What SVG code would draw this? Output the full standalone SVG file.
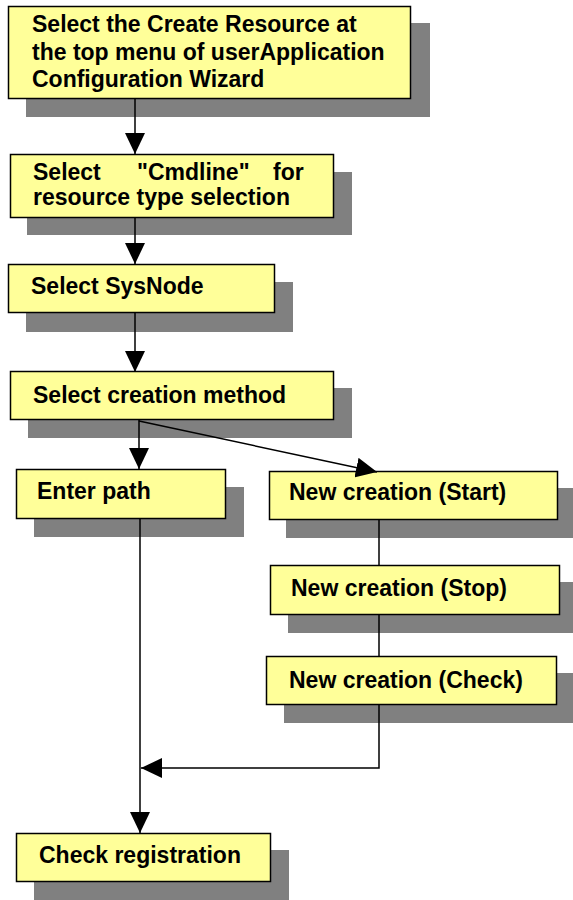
<svg xmlns="http://www.w3.org/2000/svg" width="573" height="900" viewBox="0 0 573 900">
<style>
.sh{fill:#808080}
.bx{fill:#ffff99;stroke:#000;stroke-width:1.5}
.t{font-family:"Liberation Sans",Arial,sans-serif;font-weight:bold;font-size:23px;fill:#000}
.ln{fill:none;stroke:#000;stroke-width:1.5}
</style>
<defs>
<marker id="ah" markerUnits="userSpaceOnUse" markerWidth="21" markerHeight="20" viewBox="0 0 21 20" refX="21" refY="10" orient="auto">
<path d="M0,0 L21,10 L0,20 Z" fill="#000"/>
</marker>
</defs>
<rect width="573" height="900" fill="#fff"/>
<g id="n1">
<rect class="sh" x="26" y="23" width="404" height="94"/>
<rect class="bx" x="8.5" y="6.5" width="402" height="92"/>
<text class="t" x="32" y="32">Select the Create Resource at</text>
<text class="t" x="32" y="60">the top menu of userApplication</text>
<text class="t" x="32" y="87">Configuration Wizard</text>
</g>
<g id="n2">
<rect class="sh" x="27" y="172" width="325" height="63"/>
<rect class="bx" x="10.5" y="154.5" width="323" height="63"/>
<text class="t" x="33" y="180">Select</text>
<text class="t" x="137" y="180">"Cmdline"</text>
<text class="t" x="273" y="180">for</text>
<text class="t" x="33" y="205">resource type selection</text>
</g>
<g id="n3">
<rect class="sh" x="26" y="282" width="267" height="50"/>
<rect class="bx" x="8.5" y="264.5" width="266" height="48"/>
<text class="t" x="31" y="294">Select SysNode</text>
</g>
<g id="n4">
<rect class="sh" x="28" y="388" width="324" height="50"/>
<rect class="bx" x="10.5" y="371.5" width="323" height="48"/>
<text class="t" x="33" y="403">Select creation method</text>
</g>
<g id="n5">
<rect class="sh" x="34" y="487" width="210" height="50"/>
<rect class="bx" x="16.5" y="469.5" width="209" height="49"/>
<text class="t" x="37" y="499">Enter path</text>
</g>
<g id="n6">
<rect class="sh" x="286" y="488" width="287" height="50"/>
<rect class="bx" x="269.5" y="471.5" width="288" height="48"/>
<text class="t" x="289" y="500">New creation (Start)</text>
</g>
<g id="n7">
<rect class="sh" x="288" y="582" width="285" height="51"/>
<rect class="bx" x="270.5" y="565.5" width="289" height="49"/>
<text class="t" x="291" y="596">New creation (Stop)</text>
</g>
<g id="n8">
<rect class="sh" x="284" y="673" width="289" height="50"/>
<rect class="bx" x="266.5" y="656.5" width="290" height="48"/>
<text class="t" x="289" y="688">New creation (Check)</text>
</g>
<g id="n9">
<rect class="sh" x="34" y="850" width="255" height="50"/>
<rect class="bx" x="16.5" y="833.5" width="254" height="48"/>
<text class="t" x="39" y="863">Check registration</text>
</g>
<g id="connectors">
<line class="ln" x1="135" y1="99" x2="135" y2="154" marker-end="url(#ah)"/>
<line class="ln" x1="135" y1="218" x2="135" y2="264" marker-end="url(#ah)"/>
<line class="ln" x1="135" y1="313" x2="135" y2="372" marker-end="url(#ah)"/>
<line class="ln" x1="139" y1="420" x2="139" y2="469" marker-end="url(#ah)"/>
<line class="ln" x1="139" y1="421" x2="377" y2="472" marker-end="url(#ah)"/>
<line class="ln" x1="379" y1="520" x2="379" y2="565"/>
<line class="ln" x1="379" y1="615" x2="379" y2="656"/>
<polyline class="ln" points="379,705 379,768 141,768" marker-end="url(#ah)"/>
<line class="ln" x1="140" y1="519" x2="140" y2="833" marker-end="url(#ah)"/>
</g>
</svg>
